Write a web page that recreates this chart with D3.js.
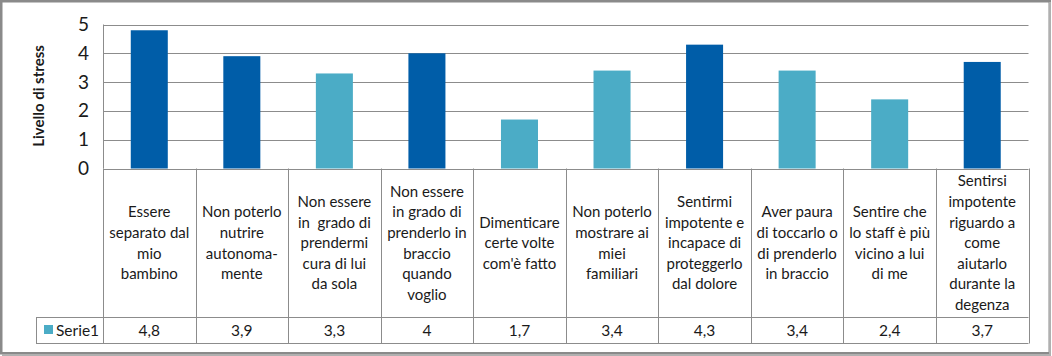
<!DOCTYPE html>
<html><head><meta charset="utf-8">
<script src="https://cdn.jsdelivr.net/npm/d3@7"></script>
<style>body{margin:0;background:#fff}svg{display:block}text{font-family:Lato,"Open Sans",sans-serif;fill:#1a1a1a}</style>
</head><body><svg id="c" width="1052" height="356"></svg>
<script>
const categories = [
  "Essere\nseparato dal\nmio\nbambino",
  "Non poterlo\nnutrire\nautonoma-\nmente",
  "Non essere\nin  grado di\nprendermi\ncura di lui\nda sola",
  "Non essere\nin grado di\nprenderlo in\nbraccio\nquando\nvoglio",
  "Dimenticare\ncerte volte\ncom'è fatto",
  "Non poterlo\nmostrare ai\nmiei\nfamiliari",
  "Sentirmi\nimpotente e\nincapace di\nproteggerlo\ndal dolore",
  "Aver paura\ndi toccarlo o\ndi prenderlo\nin braccio",
  "Sentire che\nlo staff è più\nvicino a lui\ndi me",
  "Sentirsi\nimpotente\nriguardo a\ncome\naiutarlo\ndurante la\ndegenza"
];
const values = [4.8, 3.9, 3.3, 4, 1.7, 3.4, 4.3, 3.4, 2.4, 3.7];
const yTicks = [0, 1, 2, 3, 4, 5];
const seriesName = "Serie1";
const yTitle = "Livello di stress";

const svg = d3.select("#c");
const L = 103, R = 1028.5, T = 24.5, B = 168.5, tabB = 343.5, rowY = 317, legL = 36;
const darkC = "#005DA8", lightC = "#4BACC6", gridC = "#8c8c8c";

svg.append("rect").attr("x",1.25).attr("y",1.25).attr("width",1048.5).attr("height",352)
  .attr("fill","#fff").attr("stroke","#8a8a8a").attr("stroke-width",2.5);
svg.append("line").attr("x1",1050).attr("x2",1050).attr("y1",2).attr("y2",355).attr("stroke","#b0b0b0").attr("stroke-width",2);
svg.append("line").attr("x1",2).attr("x2",1051).attr("y1",355).attr("y2",355).attr("stroke","#b0b0b0").attr("stroke-width",2);

const x = d3.scaleBand().domain(categories.map((d,i)=>i)).range([L,R]).paddingInner(0.6).paddingOuter(0.3);
const y = d3.scaleLinear().domain([0,5]).range([B,T]);

// gridlines
svg.append("g").selectAll("line").data(yTicks).join("line")
  .attr("x1",L).attr("x2",R).attr("y1",d=>Math.round(y(d))+0.5).attr("y2",d=>Math.round(y(d))+0.5)
  .attr("stroke",gridC).attr("stroke-width",1);
svg.append("line").attr("x1",L+0.5).attr("x2",L+0.5).attr("y1",T).attr("y2",B).attr("stroke",gridC);

// y axis labels
const yAxis = d3.axisLeft(y).tickValues(yTicks).tickSize(0).tickPadding(14).tickFormat(d3.format("d"));
const ga = svg.append("g").attr("transform",`translate(${L},0)`).call(yAxis);
ga.select(".domain").remove();
ga.selectAll("text").style("font-size","19px").style("font-family","Lato,sans-serif").attr("fill","#1a1a1a");

svg.append("text").attr("transform","translate(44,96) rotate(-90)").attr("text-anchor","middle")
  .style("font-size","15px").style("font-weight","bold").text(yTitle);

// bars
svg.append("g").selectAll("rect").data(values).join("rect")
  .attr("x",(d,i)=>x(i)).attr("width",x.bandwidth())
  .attr("y",d=>y(d)).attr("height",d=>y(0)-y(d))
  .attr("fill",d=>d>=3.5?darkC:lightC);

// data table
const cellL = i => L + (R-L)*i/categories.length;
const tg = svg.append("g").attr("stroke",gridC).attr("stroke-width",1);
for (let i=0;i<=categories.length;i++){
  const xx = Math.round(cellL(i))+0.5;
  tg.append("line").attr("x1",xx).attr("x2",xx).attr("y1",B).attr("y2",tabB);
}
tg.append("line").attr("x1",legL).attr("x2",R).attr("y1",rowY+0.5).attr("y2",rowY+0.5);
tg.append("line").attr("x1",legL).attr("x2",R).attr("y1",tabB).attr("y2",tabB);
tg.append("line").attr("x1",legL+0.5).attr("x2",legL+0.5).attr("y1",rowY).attr("y2",tabB);

const lh = 20.6, midY = (B+rowY)/2;
categories.forEach((c,i)=>{
  const lines = c.split("\n");
  const cx = cellL(i)+ (R-L)/categories.length/2;
  const t = svg.append("text").attr("text-anchor","middle").style("font-size","15px");
  lines.forEach((ln,k)=>{
    t.append("tspan").attr("x",cx).attr("y",midY + (k-(lines.length-1)/2)*lh + 5.5).style("white-space","pre").text(ln);
  });
  svg.append("text").attr("x",cx).attr("y",(rowY+tabB)/2+5.5).attr("text-anchor","middle")
    .style("font-size","15.5px").text(String(values[i]).replace(".",","));
});
// legend key
svg.append("rect").attr("x",44).attr("y",325).attr("width",9).attr("height",9).attr("fill",lightC);
svg.append("text").attr("x",56).attr("y",(rowY+tabB)/2+5.5).style("font-size","15.5px").text(seriesName);
</script></body></html>
